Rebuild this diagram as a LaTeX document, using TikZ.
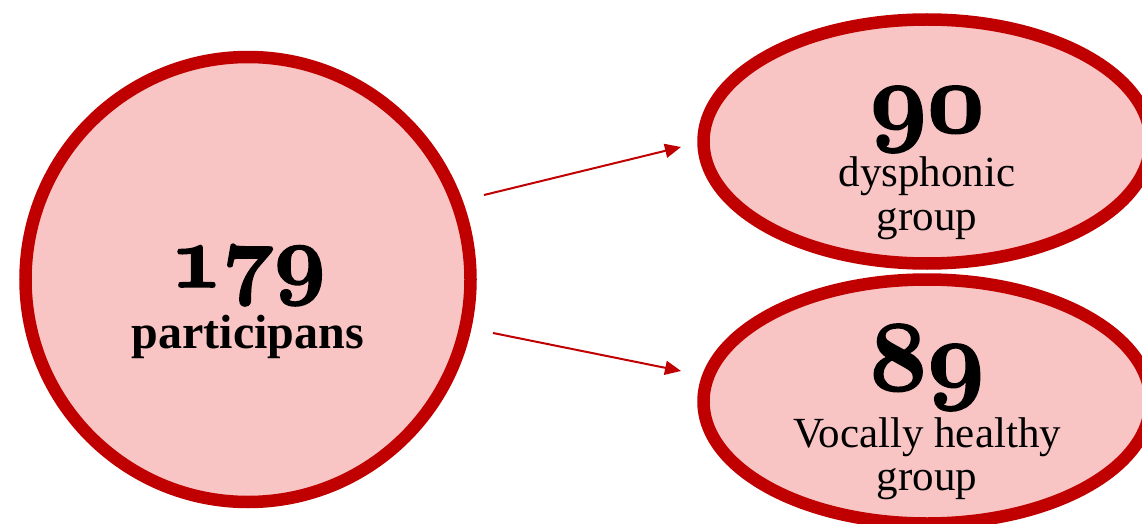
\documentclass[tikz,border=0pt]{standalone}
\usepackage{fix-cm}
\usepackage{fontspec}
\setmainfont{Liberation Serif}
\usetikzlibrary{shapes.geometric,arrows.meta}
\definecolor{dred}{HTML}{C00000}
\definecolor{pinkfill}{HTML}{F9C4C4}
\newcommand\osnum[2]{{\fontencoding{OML}\fontfamily{cmm}\fontseries{b}\fontshape{it}\fontsize{#1}{#1}\selectfont
  \special{pdf:literal direct 2 Tr 1.6 w}#2\special{pdf:literal direct 0 Tr 0.39848 w}}}
\begin{document}
\begin{tikzpicture}[x=1pt,y=1pt,
  blob/.style={draw=dred,fill=pinkfill,line width=12.5pt,inner sep=0pt},
  arr/.style={draw=dred,line width=2pt,-{Triangle[length=16pt,width=14pt]}},
  lbl/.style={anchor=base,inner sep=0pt}]
\useasboundingbox (0,0) rectangle (1142,523);
\clip (0,0) rectangle (1142,523);
\node[blob,circle,minimum size=445pt] (all) at (248,243.5) {};
\node[blob,ellipse,minimum width=447pt,minimum height=244pt] (dys) at (927,381.5) {};
\node[blob,ellipse,minimum width=447pt,minimum height=244pt] (hea) at (927,121.5) {};
% texts
\node[lbl] (n179) at (248,236) {\osnum{90}{179}};
\node[lbl,font=\fontsize{48}{48}\selectfont\bfseries] (tpart) at (248,175) {participans};
\node[lbl] (n90) at (927,391) {\osnum{100}{90}};
\node[lbl,font=\fontsize{43}{43}\selectfont] (tdys) at (927,337) {dysphonic};
\node[lbl,font=\fontsize{43}{43}\selectfont] (tgr1) at (927,293) {group};
\node[lbl] (n89) at (927,133) {\osnum{100}{89}};
\node[lbl,font=\fontsize{43}{43}\selectfont] (tvoc) at (927,76) {Vocally healthy};
\node[lbl,font=\fontsize{43}{43}\selectfont] (tgr2) at (927,33) {group};
% arrows
\coordinate (s1) at (484,328);
\coordinate (e1) at (681,376);
\coordinate (s2) at (493,190);
\coordinate (e2) at (681,152);
\draw[arr] (s1) -- (e1);
\draw[arr] (s2) -- (e2);
\end{tikzpicture}
\end{document}
